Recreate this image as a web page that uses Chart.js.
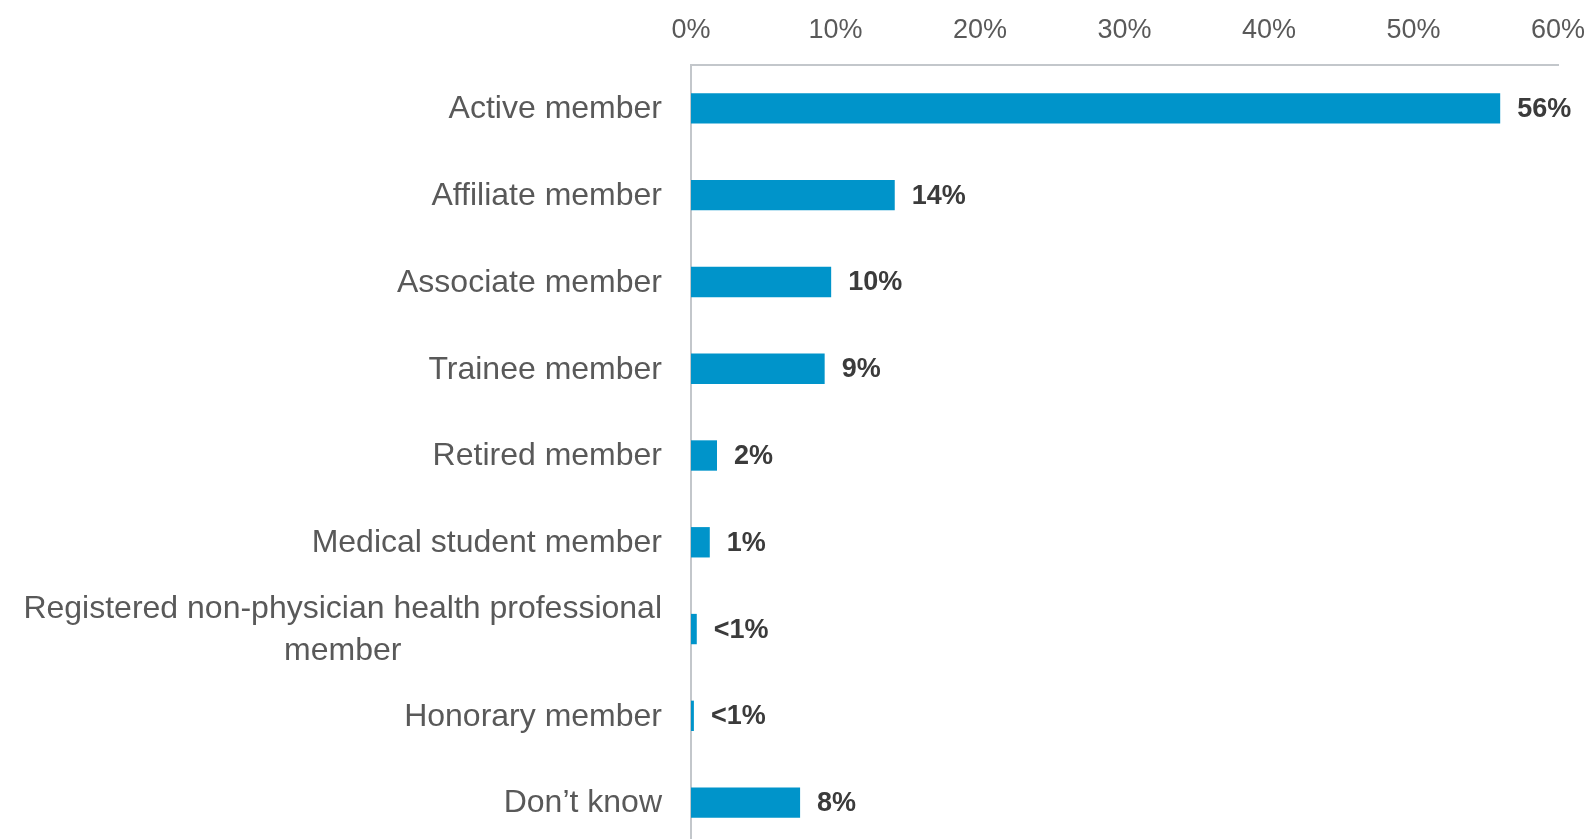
<!DOCTYPE html>
<html>
<head>
<meta charset="utf-8">
<script src="https://cdn.jsdelivr.net/npm/chart.js@4/dist/chart.umd.min.js"></script>
<style>
    html, body { margin: 0; padding: 0; background: #fff; overflow: hidden; }
    #wrap { width: 1592px; height: 846px; }
</style>
</head>
<body>
<div id="wrap"><canvas id="memberChart"></canvas></div>
<script>
const categories = [
    'Active member',
    'Affiliate member',
    'Associate member',
    'Trainee member',
    'Retired member',
    'Medical student member',
    ['Registered non-physician health professional', 'member'],
    'Honorary member',
    'Don\u2019t know'
];
const shares = [56.0, 14.1, 9.7, 9.25, 1.8, 1.3, 0.4, 0.2, 7.55];
const shareLabels = ['56%', '14%', '10%', '9%', '2%', '1%', '<1%', '<1%', '8%'];
const xTicks = [0, 10, 20, 30, 40, 50, 60];

const FONT = "'Liberation Sans', Arial, sans-serif";

// category names drawn by hand so the wrapped one can be centred on its block
const categoryLabels = {
    id: 'categoryLabels',
    afterDraw(chart) {
        const ctx = chart.ctx;
        const yScale = chart.scales.y;
        const right = chart.chartArea.left - 29;
        const lineH = 42;
        ctx.save();
        ctx.font = `32px ${FONT}`;
        ctx.fillStyle = '#595959';
        ctx.textBaseline = 'middle';
        categories.forEach((label, i) => {
            const y = yScale.getPixelForValue(i) + 1;
            const lines = Array.isArray(label) ? label : [label];
            const widest = Math.max(...lines.map(l => ctx.measureText(l).width));
            const top = y - (lines.length - 1) * lineH / 2;
            lines.forEach((line, j) => {
                if (lines.length > 1) {
                    ctx.textAlign = 'center';
                    ctx.fillText(line, right - widest / 2, top + j * lineH);
                } else {
                    ctx.textAlign = 'right';
                    ctx.fillText(line, right, top + j * lineH);
                }
            });
        });
        ctx.restore();
    }
};

const valueLabels = {
    id: 'valueLabels',
    afterDatasetsDraw(chart) {
        const ctx = chart.ctx;
        const meta = chart.getDatasetMeta(0);
        ctx.save();
        ctx.font = `bold 27px ${FONT}`;
        ctx.fillStyle = '#3b3b3b';
        ctx.textAlign = 'left';
        ctx.textBaseline = 'middle';
        meta.data.forEach((bar, i) => {
            ctx.fillText(shareLabels[i], bar.x + 17, bar.y + 1);
        });
        ctx.restore();
    }
};

new Chart(document.getElementById('memberChart'), {
    type: 'bar',
    data: {
        labels: categories.map(c => Array.isArray(c) ? c.join(' ') : c),
        datasets: [{
            data: shares,
            backgroundColor: '#0094CA',
            borderWidth: 0,
            categoryPercentage: 1,
            barPercentage: 0.35
        }]
    },
    options: {
        indexAxis: 'y',
        responsive: true,
        maintainAspectRatio: false,
        animation: false,
        layout: { padding: { left: 0, right: 34, top: 0, bottom: 0 } },
        plugins: {
            legend: { display: false },
            tooltip: { enabled: false }
        },
        scales: {
            x: {
                position: 'top',
                min: 0,
                max: 60,
                afterBuildTicks(scale) {
                    scale.ticks = xTicks.map(v => ({ value: v }));
                },
                afterFit(scale) {
                    scale.height = 65;
                    scale.paddingLeft = 0;
                    scale.paddingRight = 0;
                },
                grid: { display: false, drawTicks: false },
                border: { display: true, color: '#c3c7cb', width: 2 },
                ticks: {
                    padding: 18,
                    color: '#595959',
                    font: { family: FONT, size: 27 },
                    callback: v => v + '%'
                }
            },
            y: {
                afterFit(scale) {
                    scale.width = 691;
                },
                grid: { display: false, drawTicks: false },
                border: { display: true, color: '#c3c7cb', width: 2 },
                ticks: { display: false }
            }
        }
    },
    plugins: [categoryLabels, valueLabels]
});
</script>
</body>
</html>
